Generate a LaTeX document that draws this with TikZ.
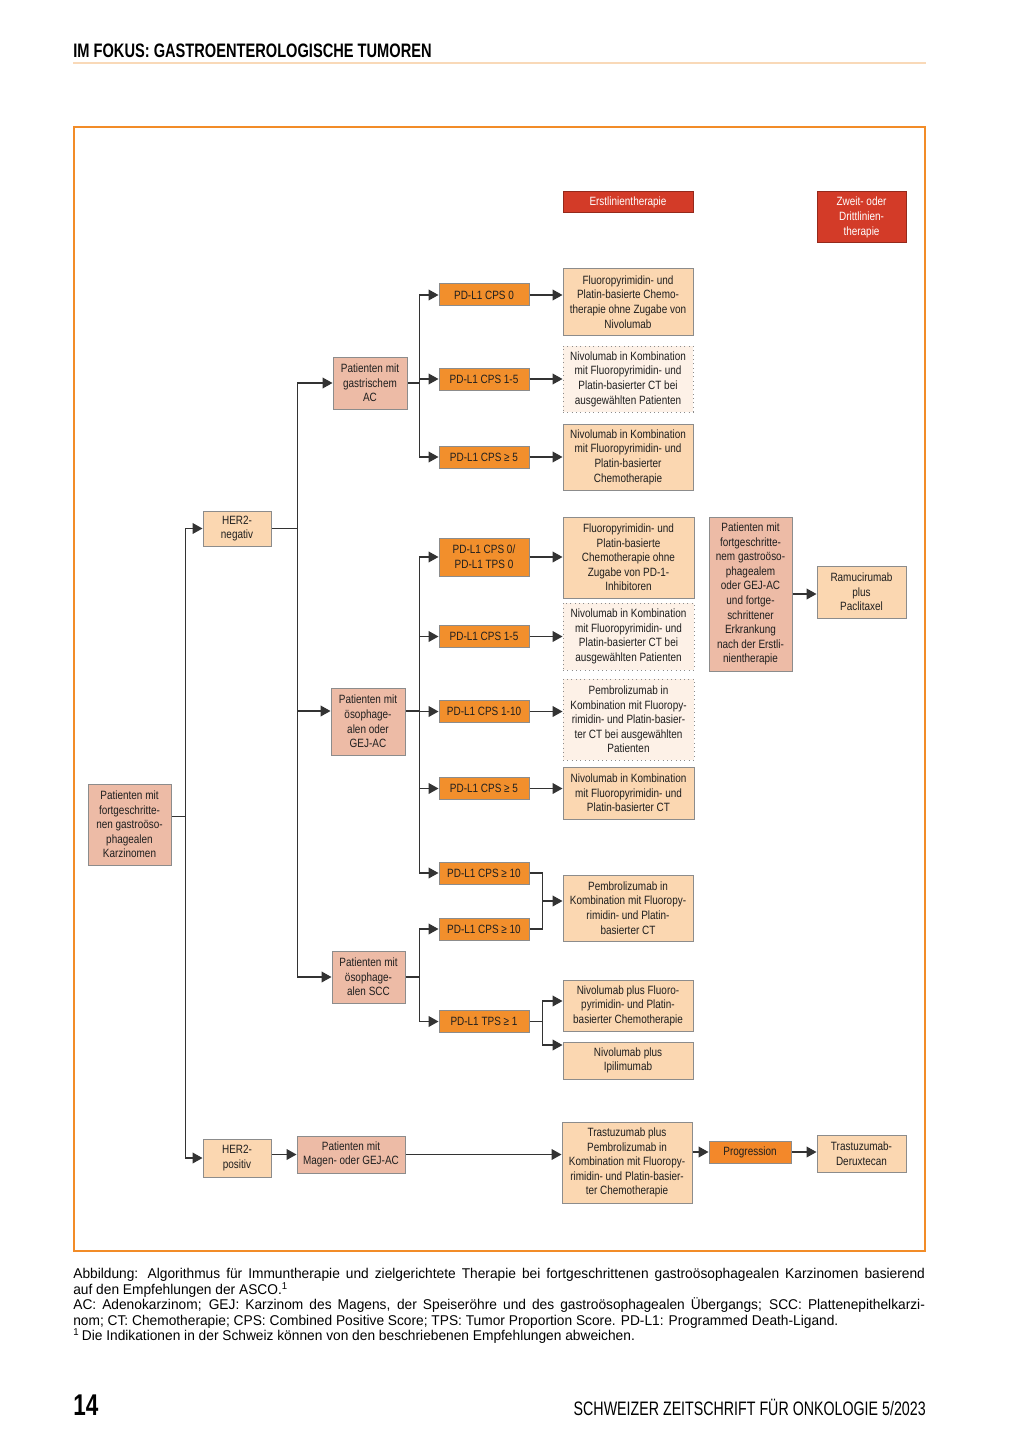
\documentclass[tikz,border=0pt]{standalone}
\usepackage{fontspec}
\setmainfont{Liberation Sans}
\newfontfamily\boxfont[FakeStretch=0.83]{Liberation Sans}
\newfontfamily\kopffont[FakeStretch=0.75]{Liberation Sans}
\newfontfamily\fussfont[FakeStretch=0.73]{Liberation Sans}
\newfontfamily\legfont[FakeStretch=0.97]{Liberation Sans}
\usepackage{tikz}
\usetikzlibrary{arrows.meta,calc}
\setlength{\parindent}{0pt}
\definecolor{rahmen}{HTML}{F28C28}
\definecolor{kopflinie}{HTML}{F9D9B8}
\definecolor{lachs}{HTML}{EDBBA6}
\definecolor{pfirsich}{HTML}{FBD7B1}
\definecolor{orangebox}{HTML}{F28F2C}
\definecolor{hell}{HTML}{FDF1E7}
\definecolor{rot}{HTML}{D33B28}
\colorlet{rand}{black!45}
\colorlet{verb}{black!80}
\tikzstyle{kasten}=[draw=rand,line width=0.6pt,align=center,inner sep=0pt,text=black!88,font=\boxfont\fontsize{7.2}{8.76}\selectfont]
\tikzstyle{pat}=[kasten,fill=lachs]
\tikzstyle{thr}=[kasten,fill=pfirsich]
\tikzstyle{wahl}=[kasten,fill=hell,dotted]
\tikzstyle{pdl}=[kasten,fill=orangebox]
\tikzstyle{titel}=[kasten,fill=rot,draw=rot!70!black,text=white]
\tikzstyle{ln}=[draw=verb,line width=0.75pt]
\tikzstyle{pfeil}=[ln,-{Triangle[length=6pt,width=6.5pt]}]
\tikzset{gr/.style 2 args={minimum width=#1*0.6pt,minimum height=#2*0.6pt}}

\begin{document}
\begin{tikzpicture}[x=0.6pt,y=-0.6pt]
\useasboundingbox (0,0) rectangle (1024,1448);
% Kopfzeile
\node[anchor=base west,inner sep=0pt,font=\kopffont\bfseries\fontsize{11.7}{14}\selectfont] (kopf) at (73,58) {IM FOKUS: GASTROENTEROLOGISCHE TUMOREN};
\draw[kopflinie,line width=1.2pt] (73,63) -- (926,63);
\draw[rahmen,line width=1pt] (74,127) rectangle (925,1251);

\node[titel,gr={130}{21}] (erst) at (628,202.5) {Erstlinientherapie};
\node[titel,gr={89}{51}] (zweit) at (861.5,217.5) {Zweit- oder\\Drittlinien-\\therapie};

\node[pat,gr={83}{81}] (start) at (129.5,824.5) {Patienten mit\\fortgeschritte-\\nen gastroöso-\\phagealen\\Karzinomen};
\node[thr,gr={68}{35}] (neg) at (237,528.5) {HER2-\\negativ};
\node[thr,gr={68}{38}] (pos) at (237,1158) {HER2-\\positiv};

\node[pat,gr={74}{52}] (gac) at (370,383) {Patienten mit\\gastrischem\\AC};
\node[pat,gr={74}{67}] (eac) at (368,721.5) {Patienten mit\\ösophage-\\alen oder\\GEJ-AC};
\node[pat,gr={73}{52}] (scc) at (368.5,977) {Patienten mit\\ösophage-\\alen SCC};
\node[pat,gr={108}{37}] (magen) at (351,1154.5) {Patienten mit\\Magen- oder GEJ-AC};

\node[pdl,gr={90}{22}] (p1) at (484,295) {PD-L1 CPS 0};
\node[pdl,gr={90}{22}] (p2) at (484,379) {PD-L1 CPS 1-5};
\node[pdl,gr={90}{22}] (p3) at (484,457) {PD-L1 CPS ≥ 5};
\node[pdl,gr={90}{38}] (p4) at (484,557) {PD-L1 CPS 0/\\PD-L1 TPS 0};
\node[pdl,gr={90}{22}] (p5) at (484,636.5) {PD-L1 CPS 1-5};
\node[pdl,gr={90}{22}] (p6) at (484,711.5) {PD-L1 CPS 1-10};
\node[pdl,gr={90}{22}] (p7) at (484,788.5) {PD-L1 CPS ≥ 5};
\node[pdl,gr={90}{22}] (p8) at (484,873) {PD-L1 CPS ≥ 10};
\node[pdl,gr={90}{22}] (p9) at (484,929) {PD-L1 CPS ≥ 10};
\node[pdl,gr={90}{22}] (p10) at (484,1021.5) {PD-L1 TPS ≥ 1};

\node[thr,gr={130}{66}] (t1) at (628,302) {Fluoropyrimidin- und\\Platin-basierte Chemo-\\therapie ohne Zugabe von\\Nivolumab};
\node[wahl,gr={130}{66}] (t2) at (628,379) {Nivolumab in Kombination\\mit Fluoropyrimidin- und\\Platin-basierter CT bei\\ausgewählten Patienten};
\node[thr,gr={130}{66}] (t3) at (628,457) {Nivolumab in Kombination\\mit Fluoropyrimidin- und\\Platin-basierter\\Chemotherapie};
\node[thr,gr={131}{81}] (t4) at (628.5,557.5) {Fluoropyrimidin- und\\Platin-basierte\\Chemotherapie ohne\\Zugabe von PD-1-\\Inhibitoren};
\node[wahl,gr={131}{67}] (t5) at (628.5,636.5) {Nivolumab in Kombination\\mit Fluoropyrimidin- und\\Platin-basierter CT bei\\ausgewählten Patienten};
\node[wahl,gr={131}{81}] (t6) at (628.5,719.5) {Pembrolizumab in\\Kombination mit Fluoropy-\\rimidin- und Platin-basier-\\ter CT bei ausgewählten\\Patienten};
\node[thr,gr={131}{52}] (t7) at (628.5,793) {Nivolumab in Kombination\\mit Fluoropyrimidin- und\\Platin-basierter CT};
\node[thr,gr={130}{66}] (t8) at (628,908) {Pembrolizumab in\\Kombination mit Fluoropy-\\rimidin- und Platin-\\basierter CT};
\node[thr,gr={130}{51}] (t9) at (628,1005.5) {Nivolumab plus Fluoro-\\pyrimidin- und Platin-\\basierter Chemotherapie};
\node[thr,gr={130}{37}] (t10) at (628,1060.5) {Nivolumab plus\\Ipilimumab};
\node[thr,gr={130}{81}] (trast) at (627,1162.5) {Trastuzumab plus\\Pembrolizumab in\\Kombination mit Fluoropy-\\rimidin- und Platin-basier-\\ter Chemotherapie};

\node[pat,gr={83}{154}] (sl) at (750.5,594) {Patienten mit\\fortgeschritte-\\nem gastroöso-\\phagealem\\oder GEJ-AC\\und fortge-\\schrittener\\Erkrankung\\nach der Erstli-\\nientherapie};
\node[thr,gr={89}{52}] (ramu) at (861.5,592) {Ramucirumab\\plus\\Paclitaxel};
\node[pdl,fill=orangebox!95!red,gr={82}{22}] (prog) at (750,1152) {Progression};
\node[thr,gr={89}{37}] (dxd) at (861.5,1153.5) {Trastuzumab-\\Deruxtecan};

% Verbindungen
\draw[ln] ([yshift=5pt]start.east) -- ++(14,0) coordinate (a1);
\draw[pfeil] (a1) |- (neg.west);
\draw[pfeil] (a1) |- (pos.west);
\draw[ln] (neg.east) -- ++(26,0) coordinate (a2);
\draw[pfeil] (a2) |- (gac.west);
\draw[pfeil] (a2) |- ([yshift=6.3pt]eac.west);
\draw[pfeil] (a2) |- (scc.west);

\draw[ln] (gac.east) -- ++(12,0) coordinate (b1);
\foreach \z in {p1,p2,p3} \draw[pfeil] (b1) |- (\z.west);
\draw[ln] ([yshift=6.3pt]eac.east) -- ++(14,0) coordinate (b2);
\foreach \z in {p4,p5,p6,p7,p8} \draw[pfeil] (b2) |- (\z.west);
\draw[ln] (scc.east) -- ++(14,0) coordinate (b3);
\foreach \z in {p9,p10} \draw[pfeil] (b3) |- (\z.west);

\foreach \a/\b in {p1/t1,p2/t2,p3/t3,p4/t4,p5/t5,p6/t6,p7/t7}
  \draw[pfeil] (\a.east) -- (\a.east -| \b.west);

\draw[ln] (p8.east) -- ++(13,0) coordinate (c1) |- (p9.east);
\draw[pfeil] ($(c1)!0.5!(c1 |- p9.east)$) coordinate (c2) -- (c2 -| t8.west);
\draw[ln] (p10.east) -- ++(13,0) coordinate (c3);
\draw[pfeil] (c3) |- ([yshift=2.7pt]t9.west);
\draw[pfeil] (c3) |- ([yshift=9.3pt]t10.west);

\draw[pfeil] (sl.east) -- (sl.east -| ramu.west);
\draw[pfeil] (magen.west -| pos.east) -- (magen.west);
\draw[pfeil] (magen.east) -- (magen.east -| trast.west);
\draw[pfeil] (prog.west -| trast.east) -- (prog.west);
\draw[pfeil] (prog.east) -- (prog.east -| dxd.west);

% Legende und Fusszeile
\node[anchor=north west,inner sep=0pt,text width=511pt,align=justify,font=\legfont\fontsize{8.5}{9.3}\selectfont] (legende) at (73,1268) {Abbildung: Algorithmus für Immuntherapie und zielgerichtete Therapie bei fortgeschrittenen gastroösophagealen Karzinomen basierend\linebreak auf den Empfehlungen der ASCO.\textsuperscript{1}\\
AC: Adenokarzinom; GEJ: Karzinom des Magens, der Speiseröhre und des gastroösophagealen Übergangs; SCC: Plattenepithelkarzi-\linebreak nom; CT: Chemotherapie; CPS: Combined Positive Score; TPS: Tumor Proportion Score. PD-L1: Programmed Death-Ligand.\\
\textsuperscript{1}\,Die Indikationen in der Schweiz können von den beschriebenen Empfehlungen abweichen.};
\node[anchor=base west,inner sep=0pt,font=\kopffont\bfseries\fontsize{18}{20}\selectfont] (seite) at (73,1415) {14};
\node[anchor=base east,inner sep=0pt,font=\fussfont\fontsize{11.7}{14}\selectfont] (heft) at (926,1415) {SCHWEIZER ZEITSCHRIFT FÜR ONKOLOGIE 5/2023};
\end{tikzpicture}
\end{document}
